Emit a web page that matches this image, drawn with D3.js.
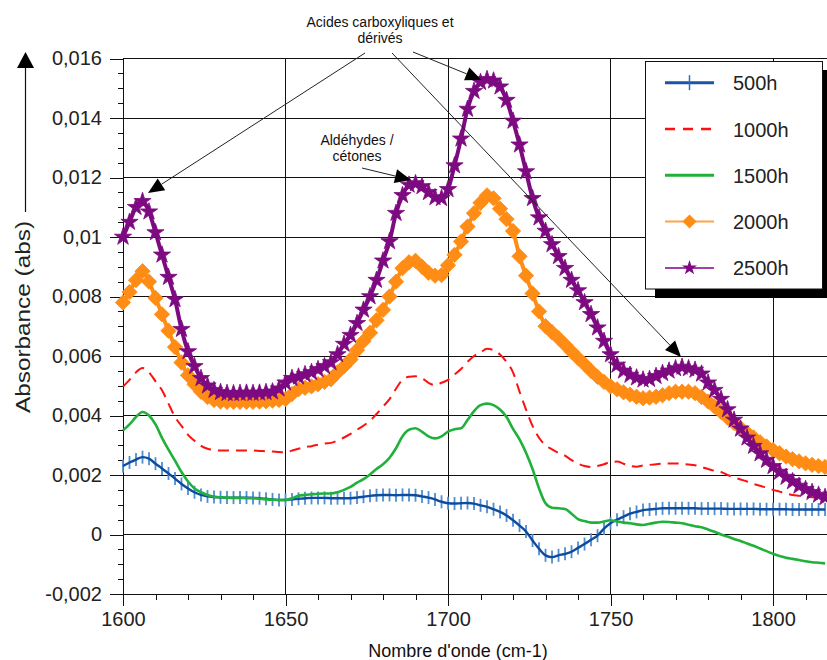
<!DOCTYPE html>
<html>
<head>
<meta charset="utf-8">
<script src="https://cdn.jsdelivr.net/npm/d3@7"></script>
<style>
  body { margin: 0; background: #fff; }
  svg { display: block; }
  text { font-family: "Liberation Sans", Arial, sans-serif; }
</style>
</head>
<body>
<svg id="chart" width="827" height="660"></svg>
<script>
// Wavenumber grid (cm-1), one sample every 2 cm-1
const wavenumbers = d3.range(1600, 1817, 2);

// Absorbance spectra after ageing
const abs500h = [
  0.00230, 0.00242, 0.00252, 0.00260, 0.00255, 0.00238, 0.00222, 0.00205, 0.00188, 0.00170,
  0.00155, 0.00142, 0.00133, 0.00128, 0.00126, 0.00125, 0.00124, 0.00124, 0.00124, 0.00124,
  0.00123, 0.00122, 0.00120, 0.00118, 0.00116, 0.00116, 0.00118, 0.00120, 0.00122, 0.00123,
  0.00123, 0.00123, 0.00122, 0.00122, 0.00122, 0.00122, 0.00124, 0.00127, 0.00130, 0.00132,
  0.00133, 0.00133, 0.00132, 0.00133, 0.00133, 0.00132, 0.00128, 0.00124, 0.00118, 0.00110,
  0.00105, 0.00104, 0.00105, 0.00106, 0.00104, 0.00098, 0.00093, 0.00085, 0.00076, 0.00064,
  0.00048, 0.00030, 0.00010, -0.00020, -0.00048, -0.00070, -0.00076, -0.00070, -0.00065, -0.00058,
  -0.00045, -0.00032, -0.00018, -0.00004, 0.00020, 0.00038, 0.00050, 0.00060, 0.00070, 0.00076,
  0.00082, 0.00084, 0.00086, 0.00088, 0.00088, 0.00088, 0.00088, 0.00088, 0.00088, 0.00087,
  0.00087, 0.00087, 0.00087, 0.00086, 0.00086, 0.00086, 0.00086, 0.00086, 0.00085, 0.00085,
  0.00085, 0.00085, 0.00085, 0.00084, 0.00084, 0.00084, 0.00084, 0.00084, 0.00084
];
const abs1000h = [
  0.00497, 0.00520, 0.00545, 0.00560, 0.00545, 0.00515, 0.00485, 0.00440, 0.00395, 0.00365,
  0.00335, 0.00315, 0.00298, 0.00288, 0.00284, 0.00282, 0.00282, 0.00282, 0.00282, 0.00282,
  0.00282, 0.00281, 0.00280, 0.00279, 0.00277, 0.00276, 0.00282, 0.00288, 0.00294, 0.00297,
  0.00302, 0.00306, 0.00308, 0.00316, 0.00326, 0.00338, 0.00352, 0.00366, 0.00382, 0.00405,
  0.00430, 0.00455, 0.00490, 0.00520, 0.00530, 0.00532, 0.00525, 0.00510, 0.00502, 0.00510,
  0.00520, 0.00538, 0.00556, 0.00580, 0.00600, 0.00612, 0.00624, 0.00620, 0.00605, 0.00580,
  0.00545, 0.00480, 0.00420, 0.00365, 0.00325, 0.00300, 0.00286, 0.00274, 0.00265, 0.00250,
  0.00238, 0.00230, 0.00227, 0.00230, 0.00236, 0.00244, 0.00245, 0.00238, 0.00230, 0.00228,
  0.00232, 0.00234, 0.00236, 0.00238, 0.00239, 0.00239, 0.00237, 0.00235, 0.00233, 0.00227,
  0.00220, 0.00214, 0.00210, 0.00200, 0.00192, 0.00185, 0.00178, 0.00170, 0.00164, 0.00157,
  0.00150, 0.00144, 0.00138, 0.00133, 0.00130, 0.00127, 0.00125, 0.00124, 0.00122
];
const abs1500h = [
  0.00350, 0.00370, 0.00395, 0.00412, 0.00400, 0.00370, 0.00325, 0.00285, 0.00248, 0.00210,
  0.00178, 0.00155, 0.00142, 0.00133, 0.00127, 0.00125, 0.00124, 0.00123, 0.00123, 0.00122,
  0.00122, 0.00120, 0.00118, 0.00117, 0.00116, 0.00116, 0.00122, 0.00130, 0.00133, 0.00135,
  0.00137, 0.00138, 0.00138, 0.00142, 0.00150, 0.00160, 0.00174, 0.00186, 0.00202, 0.00220,
  0.00236, 0.00258, 0.00290, 0.00330, 0.00352, 0.00357, 0.00345, 0.00330, 0.00323, 0.00330,
  0.00346, 0.00354, 0.00357, 0.00385, 0.00415, 0.00435, 0.00440, 0.00435, 0.00420, 0.00395,
  0.00355, 0.00320, 0.00275, 0.00220, 0.00155, 0.00105, 0.00090, 0.00088, 0.00086, 0.00070,
  0.00052, 0.00045, 0.00040, 0.00040, 0.00044, 0.00048, 0.00044, 0.00040, 0.00038, 0.00034,
  0.00032, 0.00036, 0.00040, 0.00043, 0.00042, 0.00040, 0.00038, 0.00033, 0.00028, 0.00024,
  0.00017, 0.00009, 0.00000, -0.00007, -0.00015, -0.00022, -0.00030, -0.00038, -0.00047, -0.00056,
  -0.00065, -0.00072, -0.00078, -0.00082, -0.00086, -0.00090, -0.00093, -0.00095, -0.00097
];
const abs2000h = [
  0.00780, 0.00815, 0.00855, 0.00885, 0.00850, 0.00795, 0.00740, 0.00685, 0.00630, 0.00578,
  0.00535, 0.00505, 0.00480, 0.00462, 0.00452, 0.00447, 0.00446, 0.00446, 0.00446, 0.00446,
  0.00446, 0.00447, 0.00448, 0.00450, 0.00452, 0.00455, 0.00472, 0.00488, 0.00493, 0.00498,
  0.00505, 0.00513, 0.00522, 0.00545, 0.00565, 0.00588, 0.00620, 0.00650, 0.00678, 0.00720,
  0.00755, 0.00800, 0.00850, 0.00895, 0.00915, 0.00920, 0.00900, 0.00880, 0.00870, 0.00872,
  0.00905, 0.00940, 0.00985, 0.01035, 0.01080, 0.01115, 0.01140, 0.01130, 0.01095, 0.01060,
  0.01020, 0.00935, 0.00870, 0.00810, 0.00750, 0.00700, 0.00680, 0.00660, 0.00638, 0.00615,
  0.00593, 0.00572, 0.00550, 0.00530, 0.00513, 0.00498, 0.00488, 0.00478, 0.00470, 0.00463,
  0.00458, 0.00460, 0.00463, 0.00468, 0.00475, 0.00480, 0.00480, 0.00480, 0.00475, 0.00462,
  0.00447, 0.00430, 0.00412, 0.00393, 0.00375, 0.00358, 0.00342, 0.00326, 0.00310, 0.00296,
  0.00284, 0.00273, 0.00262, 0.00253, 0.00246, 0.00239, 0.00234, 0.00230, 0.00227
];
const abs2500h = [
  0.01000, 0.01050, 0.01100, 0.01120, 0.01085, 0.01015, 0.00940, 0.00865, 0.00790, 0.00690,
  0.00615, 0.00565, 0.00525, 0.00500, 0.00485, 0.00478, 0.00475, 0.00474, 0.00475, 0.00476,
  0.00475, 0.00476, 0.00478, 0.00480, 0.00490, 0.00510, 0.00525, 0.00530, 0.00538, 0.00545,
  0.00555, 0.00565, 0.00578, 0.00605, 0.00640, 0.00670, 0.00710, 0.00755, 0.00800, 0.00855,
  0.00920, 0.00985, 0.01080, 0.01140, 0.01175, 0.01180, 0.01170, 0.01150, 0.01133, 0.01130,
  0.01160, 0.01240, 0.01330, 0.01430, 0.01490, 0.01520, 0.01530, 0.01525, 0.01505, 0.01460,
  0.01390, 0.01310, 0.01220, 0.01130, 0.01065, 0.01020, 0.00975, 0.00935, 0.00895, 0.00855,
  0.00820, 0.00780, 0.00740, 0.00695, 0.00650, 0.00605, 0.00570, 0.00550, 0.00536, 0.00527,
  0.00520, 0.00522, 0.00532, 0.00542, 0.00550, 0.00558, 0.00563, 0.00558, 0.00553, 0.00540,
  0.00510, 0.00485, 0.00455, 0.00420, 0.00385, 0.00355, 0.00325, 0.00297, 0.00272, 0.00250,
  0.00229, 0.00210, 0.00193, 0.00178, 0.00163, 0.00152, 0.00142, 0.00133, 0.00125
];

const seriesNames = ["500h", "1000h", "1500h", "2000h", "2500h"];

// Axis ticks
const xTickValues = [1600, 1650, 1700, 1750, 1800];
const xTickLabels = ["1600", "1650", "1700", "1750", "1800"];
const yTickValues = [-0.002, 0, 0.002, 0.004, 0.006, 0.008, 0.01, 0.012, 0.014, 0.016];
const yTickLabels = ["-0,002", "0", "0,002", "0,004", "0,006", "0,008", "0,01", "0,012", "0,014", "0,016"];

// Peak annotations: label lines, anchor of the leader line and the point it designates
const annotationLabels = [
  { lines: ["Acides carboxyliques et", "dérivés"], cx: 380, baseline: 27 },
  { lines: ["Aldéhydes /", "cétones"], cx: 357, baseline: 145 }
];
const annotationArrows = [
  { from: [365, 53], wn: 1607.7, value: 0.01148 },
  { from: [413, 52], wn: 1710.3, value: 0.01528 },
  { from: [392, 53], wn: 1771.7, value: 0.00597 },
  { from: [362, 168], wn: 1688.6, value: 0.01192 }
];

const svg = d3.select("#chart");
const x = d3.scaleLinear().domain([1600, 1816.6]).range([123, 827]);
const y = d3.scaleLinear().domain([-0.002, 0.016]).range([594, 58.5]);

// ---- grid ----
const grid = svg.append("g").attr("stroke", "#111").attr("stroke-width", 1).attr("shape-rendering", "crispEdges");
grid.selectAll("line.h").data(yTickValues).join("line").attr("class", "h")
  .attr("x1", 123).attr("x2", 827).attr("y1", d => y(d)).attr("y2", d => y(d));
grid.selectAll("line.v").data(xTickValues.slice(1)).join("line").attr("class", "v")
  .attr("x1", d => x(d)).attr("x2", d => x(d)).attr("y1", y(0.016)).attr("y2", y(-0.002));

// ---- axes ----
function styleAxis(g) {
  g.attr("font-size", 20).attr("font-family", '"Liberation Sans", Arial, sans-serif');
  g.selectAll("text").attr("fill", "#222");
  g.selectAll("line, path").attr("stroke", "#111").attr("shape-rendering", "crispEdges");
}
const yMinor = d3.range(-0.002, 0.0161, 0.0005).filter(v => Math.abs(Math.round(v / 0.002) * 0.002 - v) > 1e-7);
const xMinor = d3.range(1600, 1817, 10).filter(v => v % 50 !== 0);

svg.append("g").attr("transform", "translate(123,0)")
  .call(d3.axisLeft(y).tickValues(yMinor).tickSize(5).tickSizeOuter(0).tickFormat(""))
  .call(styleAxis);
svg.append("g").attr("transform", "translate(123,0)")
  .call(d3.axisLeft(y).tickValues(yTickValues).tickSize(13).tickSizeOuter(0).tickPadding(8)
    .tickFormat((d, i) => yTickLabels[i]))
  .call(styleAxis);
svg.append("g").attr("transform", `translate(0,${y(-0.002)})`)
  .call(d3.axisBottom(x).tickValues(xMinor).tickSize(6).tickSizeOuter(0).tickFormat(""))
  .call(styleAxis);
svg.append("g").attr("transform", `translate(0,${y(-0.002)})`)
  .call(d3.axisBottom(x).tickValues(xTickValues).tickSize(12).tickSizeOuter(0).tickPadding(6)
    .tickFormat((d, i) => xTickLabels[i]))
  .call(styleAxis);

// axis titles
svg.append("text").attr("x", 458).attr("y", 657).attr("text-anchor", "middle")
  .attr("font-size", 18).attr("fill", "#111").text("Nombre d'onde (cm-1)");
svg.append("text").attr("transform", "translate(30,413) rotate(-90)").attr("text-anchor", "start")
  .attr("font-size", 21).attr("fill", "#222")
  .attr("textLength", 192).attr("lengthAdjust", "spacingAndGlyphs")
  .text("Absorbance (abs)");
// arrow along the vertical axis title
svg.append("line").attr("x1", 25.5).attr("x2", 25.5).attr("y1", 66).attr("y2", 212)
  .attr("stroke", "#111").attr("stroke-width", 1.2);
svg.append("path").attr("d", "M25.5,52L34,68L17,68Z").attr("fill", "#000");

// ---- symbols ----
const diamondType = {
  draw(ctx, size) {
    const r = Math.sqrt(size / 2);
    ctx.moveTo(0, -r); ctx.lineTo(r, 0); ctx.lineTo(0, r); ctx.lineTo(-r, 0); ctx.closePath();
  }
};
const tickType = {
  draw(ctx, size) {
    const h = Math.sqrt(size) / 2;
    ctx.moveTo(0, -h); ctx.lineTo(0, h);
  }
};

const series = [
  { name: "500h", values: abs500h, line: "#0d4b9e", width: 2.4,
    marker: { type: tickType, size: 169, stroke: "#4f8dd0", sw: 1.8 }, markerFirst: true },
  { name: "1000h", values: abs1000h, line: "#ff1010", width: 2, dash: "11,7" },
  { name: "1500h", values: abs1500h, line: "#1fb13a", width: 2.6 },
  { name: "2000h", values: abs2000h, line: "#ff8c14", width: 4,
    marker: { type: diamondType, size: 118, fill: "#ff8c14", stroke: "#ff8c14", sw: 0.8 } },
  { name: "2500h", values: abs2500h, line: "#7d0a80", width: 4,
    marker: { type: d3.symbolStar, size: 92, fill: "#7d0a80", stroke: "#7d0a80", sw: 0.8 } }
];

const lineGen = d3.line().x((d, i) => x(wavenumbers[i])).y(d => y(d)).curve(d3.curveMonotoneX);
const plot = svg.append("g");

function drawMarkers(g, s) {
  const m = s.marker;
  g.append("g").selectAll("path").data(s.values).join("path")
    .attr("transform", (d, i) => `translate(${x(wavenumbers[i])},${y(d)})`)
    .attr("d", d3.symbol(m.type, m.size))
    .attr("fill", m.fill || "none")
    .attr("stroke", m.stroke || "none")
    .attr("stroke-width", m.sw || 0)
    .attr("stroke-linejoin", "round");
}
function drawLine(g, s) {
  g.append("path").datum(s.values).attr("d", lineGen)
    .attr("fill", "none").attr("stroke", s.line).attr("stroke-width", s.width)
    .attr("stroke-dasharray", s.dash || null).attr("stroke-linejoin", "round");
}
series.forEach(s => {
  const g = plot.append("g");
  if (s.marker && s.markerFirst) { drawMarkers(g, s); drawLine(g, s); }
  else { drawLine(g, s); if (s.marker) drawMarkers(g, s); }
});

// ---- annotations ----
const ann = svg.append("g");
annotationLabels.forEach(a => {
  a.lines.forEach((t, k) => {
    ann.append("text").attr("x", a.cx).attr("y", a.baseline + k * 16).attr("text-anchor", "middle")
      .attr("font-size", 14).attr("fill", "#111").text(t);
  });
});
annotationArrows.forEach(a => {
  const tx = x(a.wn), ty = y(a.value);
  const [fx, fy] = a.from;
  const dx = tx - fx, dy = ty - fy, len = Math.hypot(dx, dy);
  const ux = dx / len, uy = dy / len;
  const bx = tx - ux * 16, by = ty - uy * 16;
  ann.append("line").attr("x1", fx).attr("y1", fy).attr("x2", bx).attr("y2", by)
    .attr("stroke", "#222").attr("stroke-width", 1);
  ann.append("path")
    .attr("d", `M${tx},${ty}L${bx - uy * 7},${by + ux * 7}L${bx + uy * 7},${by - ux * 7}Z`)
    .attr("fill", "#000");
});

// ---- legend ----
const legend = svg.append("g");
legend.append("rect").attr("x", 655).attr("y", 70).attr("width", 178).attr("height", 228).attr("fill", "#000");
legend.append("rect").attr("x", 645.5).attr("y", 61.5).attr("width", 177).attr("height", 227.5)
  .attr("fill", "#fff").attr("stroke", "#111").attr("stroke-width", 1);
const legendStyle = {
  "500h": { line: "#1a56a6", width: 3, marker: { type: tickType, size: 225, stroke: "#2b6cc0", sw: 1.5 } },
  "1000h": { line: "#ff1010", width: 2.5, dash: "10,8" },
  "1500h": { line: "#1fb13a", width: 3 },
  "2000h": { line: "#ffa347", width: 2, marker: { type: diamondType, size: 98, fill: "#ff8c14" } },
  "2500h": { line: "#a040a8", width: 2, marker: { type: d3.symbolStar, size: 70, fill: "#7d0a80" } }
};
seriesNames.forEach((name, i) => {
  const st = legendStyle[name];
  const ly = 82.7 + i * 46.3;
  const row = legend.append("g");
  row.append("line").attr("x1", 665).attr("x2", 714).attr("y1", ly).attr("y2", ly)
    .attr("stroke", st.line).attr("stroke-width", st.width).attr("stroke-dasharray", st.dash || null);
  if (st.marker) {
    row.append("path").attr("transform", `translate(689.5,${ly})`)
      .attr("d", d3.symbol(st.marker.type, st.marker.size))
      .attr("fill", st.marker.fill || "none").attr("stroke", st.marker.stroke || "none")
      .attr("stroke-width", st.marker.sw || 0);
  }
  row.append("text").attr("x", 733).attr("y", ly + 7.5).attr("font-size", 20).attr("fill", "#222").text(name);
});
</script>
</body>
</html>
